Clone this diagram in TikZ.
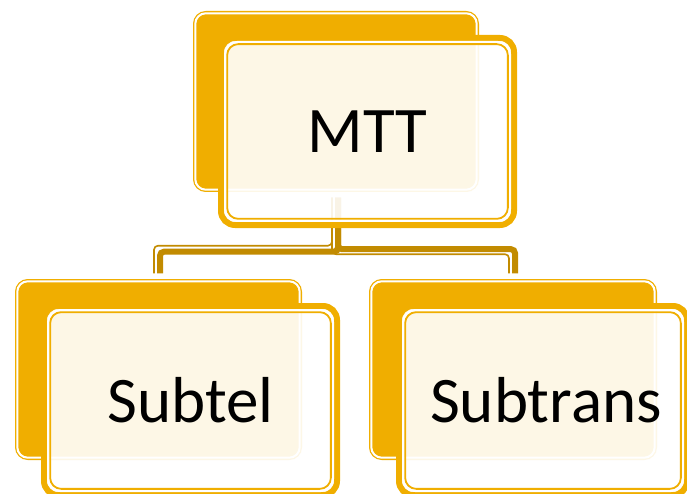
\documentclass[tikz,border=0pt]{standalone}
\usepackage{fontspec}
\newfontfamily\boxfont{Carlito}
\usetikzlibrary{calc}
\definecolor{gold}{HTML}{F0AE00}
\definecolor{darkgold}{HTML}{C28B00}
\tikzset{
  backbox/.style={draw=gold, fill=gold, line width=1.3pt, double=white, double distance=2pt,
    rounded corners=10.5pt, inner sep=0pt, outer sep=0pt},
  frontbox/.style={draw=gold, line width=6pt, fill=white, fill opacity=0.9, text opacity=1,
    rounded corners=14pt, inner sep=0pt, outer sep=0pt, text=black,
    font=\boxfont\fontsize{65}{78}\selectfont},
  gapline/.style={draw=white, line width=2.3pt, rounded corners=12pt},
  innerline/.style={draw=gold, line width=1.8pt, rounded corners=11pt},
  connthick/.style={draw=darkgold, line width=6pt, rounded corners=4pt},
  connthin/.style={draw=darkgold, line width=1.6pt, rounded corners=4pt},
}
\begin{document}
\begin{tikzpicture}[x=1pt, y=-1pt]
\useasboundingbox (0,0) rectangle (687,494);
\clip (0,0) rectangle (687,494);
% back boxes
\node[backbox, minimum width=281.4pt, minimum height=176.4pt] (mttback) at (336,101.5) {};
\node[backbox, minimum width=282.4pt, minimum height=176.4pt] (subtelback) at (158.5,369.5) {};
\node[backbox, minimum width=283.4pt, minimum height=176.4pt] (subtransback) at (513,369.5) {};
% connectors
\draw[connthick] ($(mttback.south)+(2,8)$) -- ++(0,54) -| ($(subtelback.north)+(1.5,-8)$);
\draw[connthin] ($(mttback.south)+(-4,8)$) -- ++(0,48) -| ($(subtelback.north)+(-4.5,-8)$);
\draw[connthick] ($(mttback.south)+(2,8)$) -- ++(0,51.5) -| ($(subtransback.north)+(2,-8)$);
\draw[connthin] ($(mttback.south)+(-4,8)$) -- ++(0,56.5) -| ($(subtransback.north)+(-4,-8)$);
% front boxes
\node[frontbox, minimum width=293pt, minimum height=187pt] (mtt) at (367.5,131.5) {MTT};
\node[frontbox, minimum width=293pt, minimum height=189pt] (subtel) at (190.5,400.5) {Subtel};
\node[frontbox, minimum width=288pt, minimum height=189pt] (subtrans) at (543,400.5) {\hspace*{6pt}Subtrans};
% inner lines of the front boxes
\foreach \n in {mtt,subtel,subtrans}{
  \draw[gapline] ($(\n.north west)+(4.15,4.15)$) rectangle ($(\n.south east)-(4.15,4.15)$);
  \draw[innerline] ($(\n.north west)+(6.15,6.15)$) rectangle ($(\n.south east)-(6.15,6.15)$);
}
\end{tikzpicture}
\end{document}
